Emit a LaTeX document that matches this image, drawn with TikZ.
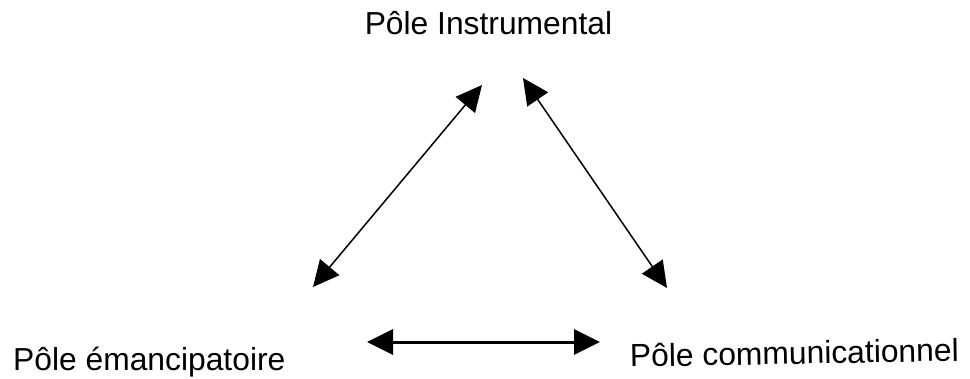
\documentclass[tikz,border=0pt]{standalone}
\usepackage{fontspec}
\setmainfont{Liberation Sans}
\usetikzlibrary{arrows.meta}
\begin{document}
\begin{tikzpicture}[x=1pt,y=1pt,
  lbl/.style={inner sep=0pt,font=\fontsize{31.8}{38}\selectfont},
  dbl/.style={{Triangle[length=26pt,width=25pt]}-{Triangle[length=26pt,width=25pt]},line width=1.5pt},
  dblthick/.style={dbl,line width=3pt}]
\useasboundingbox (0,0) rectangle (970,378);
\node[lbl,anchor=base] (instr) at (488.5,343) {Pôle Instrumental};
\node[lbl,anchor=base west] (eman) at (13,8) {Pôle émancipatoire};
\node[lbl,anchor=base west,rotate=1] (comm) at (630,11) {Pôle communicationnel};
\coordinate (a1s) at (313,91);
\coordinate (a1e) at (482,293);
\coordinate (a2s) at (523,300);
\coordinate (a2e) at (667,90);
\coordinate (hs) at (367,36);
\coordinate (he) at (600,36);
\draw[dbl] (a1s) -- (a1e);
\draw[dbl] (a2s) -- (a2e);
\draw[dblthick] (hs) -- (he);
\end{tikzpicture}
\end{document}
